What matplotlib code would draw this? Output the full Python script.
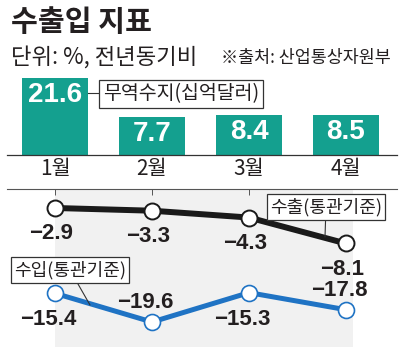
import numpy as np
import matplotlib.pyplot as plt

months = ["1월", "2월", "3월", "4월"]
trade_balance = [21.6, 7.7, 8.4, 8.5]      # 무역수지(십억달러)
exports = [-2.9, -3.3, -4.3, -8.1]         # 수출(통관기준)
imports = [-15.4, -19.6, -15.3, -17.8]     # 수입(통관기준)
import_label_side = ["below", "above", "below", "above"]

KR = ["Noto Sans CJK KR", "DejaVu Sans"]
NUM = ["Liberation Sans Narrow", "Liberation Sans", "DejaVu Sans"]
teal = "#14a08f"
blue = "#1f73c4"
ink = "#231f20"

W, H = 400, 347


def fig_xy(px, py):
    # pixel position measured from top-left -> figure fraction
    return px / W, 1 - py / H


fig = plt.figure(figsize=(4, 3.47), dpi=100)
x = np.arange(len(months))
xlim = (-0.495, 3.526)

# ---- bars (trade balance) ----
ax1 = fig.add_axes([7 / W, 1 - 155 / H, 390 / W, 85 / H])
base = -6
ax1.bar(x, np.array(trade_balance) - base, bottom=base, width=0.68,
        color=teal, zorder=2)
for xi, v in zip(x, trade_balance):
    ax1.annotate(f"{v}", (xi, v), xytext=(0, -12.5), textcoords="offset points",
                 ha="center", va="center", color="white", fontsize=20,
                 fontweight="bold", family=NUM)
ax1.set_xlim(xlim)
ax1.set_ylim(base, 24.5)
for s in ["top", "left", "right"]:
    ax1.spines[s].set_visible(False)
ax1.spines["bottom"].set_color("#333333")
ax1.spines["bottom"].set_linewidth(0.9)
ax1.set_yticks([])
ax1.set_xticks(x, months, family=KR, fontsize=15, color=ink)
ax1.tick_params(axis="x", length=0, pad=2)
ax1.patch.set_alpha(0)

# ---- lines (exports / imports) ----
ax2 = fig.add_axes([7 / W, 0, 390 / W, 158 / H])
ax2.axvspan(x[0], x[-1] + 0.07, color="#f1f1f1", zorder=0, lw=0)
ax2.plot(x, exports, color="#1a1a1a", lw=4.3, zorder=3, marker="o",
         ms=11.5, mfc="white", mec="#1a1a1a", mew=1.4)
ax2.plot(x, imports, color=blue, lw=3.6, zorder=3, marker="o",
         ms=11.5, mfc="white", mec=blue, mew=1.2)
for xi, v in zip(x, exports):
    ax2.annotate(f"−{abs(v)}", (xi, v), xytext=(-3, -18.5),
                 textcoords="offset points", ha="center", va="center",
                 fontsize=16, fontweight="bold", color=ink, family=NUM)
for xi, v, side in zip(x, imports, import_label_side):
    dy = -19 if side == "below" else 14
    ax2.annotate(f"−{abs(v)}", (xi, v), xytext=(-5, dy),
                 textcoords="offset points", ha="center", va="center",
                 fontsize=16, fontweight="bold", color=ink, family=NUM)
ax2.set_xlim(xlim)
ax2.set_ylim(-23.26, -0.12)
for s in ["bottom", "left", "right"]:
    ax2.spines[s].set_visible(False)
ax2.spines["top"].set_color("#555555")
ax2.spines["top"].set_linewidth(0.8)
ax2.set_yticks([])
ax2.xaxis.tick_top()
ax2.set_xticks(x[:3], [""] * 3)
ax2.tick_params(axis="x", direction="in", length=4.5, width=0.7,
                color="#555555")
ax2.patch.set_alpha(0)

# ---- legend boxes with leader lines ----
box = dict(boxstyle="square,pad=0.18", fc="white", ec="#333333", lw=0.9)
leader = dict(arrowstyle="-", lw=0.8, color="#333333", shrinkA=0, shrinkB=0)
fig.text(*fig_xy(181, 94), "무역수지(십억달러)", ha="center", va="center",
         fontsize=14, family=KR, color=ink, bbox=box, zorder=5)
fig.add_artist(plt.Line2D([88 / W, 100 / W], [1 - 93 / H, 1 - 93 / H],
                          lw=0.8, color="#333333"))
ax2.annotate("수출(통관기준)", xy=fig_xy(325, 237), xycoords="figure fraction",
             xytext=fig_xy(326, 207), textcoords="figure fraction",
             ha="center", va="center", fontsize=13, family=KR, color=ink,
             bbox=box, arrowprops=leader, zorder=5)
ax2.annotate("수입(통관기준)", xy=fig_xy(90, 305), xycoords="figure fraction",
             xytext=fig_xy(70, 270), textcoords="figure fraction",
             ha="center", va="center", fontsize=13, family=KR, color=ink,
             bbox=box, arrowprops=leader, zorder=5)

# ---- titles ----
fig.text(*fig_xy(11, 22), "수출입 지표", ha="left", va="center",
         fontsize=21, fontweight="bold", family=KR, color=ink)
fig.text(*fig_xy(11, 57), "단위: %, 전년동기비", ha="left", va="center",
         fontsize=16, family=KR, color=ink)
fig.text(*fig_xy(391, 58), "※출처: 산업통상자원부", ha="right", va="center",
         fontsize=12.5, family=KR, color=ink)

fig.savefig("out.png", dpi=100)
